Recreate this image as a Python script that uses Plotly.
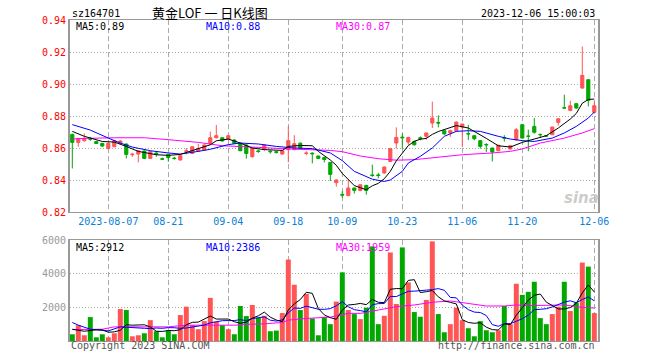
import plotly.graph_objects as go

# ---------------- data ----------------
dates = [
    "2023-07-28", "2023-07-31",
    "2023-08-01", "2023-08-02", "2023-08-03", "2023-08-04", "2023-08-07", "2023-08-08", "2023-08-09",
    "2023-08-10", "2023-08-11", "2023-08-14", "2023-08-15", "2023-08-16", "2023-08-17", "2023-08-18",
    "2023-08-21", "2023-08-22", "2023-08-23", "2023-08-24", "2023-08-25", "2023-08-28", "2023-08-29",
    "2023-08-30", "2023-08-31",
    "2023-09-01", "2023-09-04", "2023-09-05", "2023-09-06", "2023-09-07", "2023-09-08", "2023-09-11",
    "2023-09-12", "2023-09-13", "2023-09-14", "2023-09-15", "2023-09-18", "2023-09-19", "2023-09-20",
    "2023-09-21", "2023-09-22", "2023-09-25", "2023-09-26", "2023-09-27", "2023-09-28",
    "2023-10-09", "2023-10-10", "2023-10-11", "2023-10-12", "2023-10-13", "2023-10-16", "2023-10-17",
    "2023-10-18", "2023-10-19", "2023-10-20", "2023-10-23", "2023-10-24", "2023-10-25", "2023-10-26",
    "2023-10-27", "2023-10-30", "2023-10-31",
    "2023-11-01", "2023-11-02", "2023-11-03", "2023-11-06", "2023-11-07", "2023-11-08", "2023-11-09",
    "2023-11-10", "2023-11-13", "2023-11-14", "2023-11-15", "2023-11-16", "2023-11-17", "2023-11-20",
    "2023-11-21", "2023-11-22", "2023-11-23", "2023-11-24", "2023-11-27", "2023-11-28", "2023-11-29",
    "2023-11-30",
    "2023-12-01", "2023-12-04", "2023-12-05", "2023-12-06",
]

opens = [
    .8685, .8635, .8646, .8658, .8640, .8629, .8597, .8608, .8629, .8625,
    .8558, .8562, .8581, .8535, .8568, .8533, .8560, .8537, .8525, .8579,
    .8566, .8581, .8587, .8629, .8664, .8664, .8656, .8650, .8629, .8619,
    .8546, .8582, .8594, .8580, .8577, .8562, .8590, .8590, .8630, .8566,
    .8568, .8550, .8540, .8510, .8383, .8310, .8302, .8350, .8335, .8366,
    .8432, .8432, .8444, .8516, .8631, .8668, .8637, .8641, .8664, .8673,
    .8756, .8760, .8708, .8694, .8708, .8731, .8690, .8677, .8646, .8622,
    .8600, .8583, .8664, .8594, .8652, .8746, .8675, .8735, .8685, .8677,
    .8683, .8760, .8852, .8835, .8877, .8975, .9027, .8823,
]
highs = [
    .8690, .8662, .8691, .8670, .8645, .8632, .8632, .8650, .8650, .8628,
    .8570, .8585, .8585, .8581, .8580, .8540, .8563, .8545, .8555, .8600,
    .8610, .8625, .8622, .8702, .8744, .8668, .8680, .8655, .8632, .8622,
    .8600, .8590, .8620, .8585, .8582, .8585, .8735, .8680, .8635, .8580,
    .8572, .8552, .8545, .8512, .8405, .8330, .8400, .8352, .8372, .8370,
    .8496, .8445, .8485, .8598, .8729, .8690, .8670, .8645, .8672, .8694,
    .8890, .8804, .8715, .8715, .8765, .8750, .8745, .8680, .8648, .8630,
    .8602, .8620, .8680, .8617, .8725, .8748, .8715, .8787, .8690, .8680,
    .8731, .8783, .8933, .8896, .8882, .9235, .9030, .8890,
]
lows = [
    .8472, .8608, .8640, .8645, .8625, .8608, .8592, .8605, .8625, .8535,
    .8545, .8510, .8530, .8532, .8545, .8525, .8514, .8528, .8522, .8560,
    .8562, .8575, .8585, .8620, .8660, .8640, .8650, .8625, .8580, .8533,
    .8540, .8570, .8580, .8565, .8565, .8558, .8510, .8585, .8595, .8555,
    .8504, .8530, .8510, .8394, .8358, .8290, .8300, .8315, .8330, .8308,
    .8420, .8410, .8440, .8514, .8596, .8596, .8620, .8615, .8648, .8652,
    .8725, .8729, .8683, .8670, .8700, .8604, .8650, .8648, .8596, .8575,
    .8516, .8580, .8640, .8590, .8645, .8660, .8580, .8690, .8665, .8670,
    .8680, .8740, .8845, .8830, .8845, .8969, .8860, .8815,
]
closes = [
    .8635, .8660, .8660, .8655, .8628, .8612, .8629, .8646, .8644, .8560,
    .8561, .8583, .8535, .8577, .8564, .8530, .8540, .8534, .8552, .8582,
    .8608, .8597, .8619, .8664, .8677, .8644, .8677, .8629, .8583, .8566,
    .8597, .8578, .8619, .8577, .8573, .8583, .8646, .8627, .8598, .8568,
    .8564, .8535, .8528, .8435, .8400, .8306, .8350, .8335, .8370, .8335,
    .8428, .8428, .8481, .8596, .8666, .8664, .8666, .8620, .8660, .8694,
    .8787, .8756, .8688, .8708, .8762, .8750, .8688, .8658, .8610, .8620,
    .8575, .8617, .8662, .8614, .8714, .8662, .8673, .8698, .8683, .8675,
    .8731, .8783, .8850, .8864, .8850, .9054, .8898, .8864,
]
volumes = [
    400, 940, 340, 1420, 220, 400, 220, 460, 1900, 1840,
    280, 340, 460, 1240, 580, 220, 620, 400, 1540, 2040,
    940, 700, 1180, 2560, 1140, 940, 700, 400, 2080, 1480,
    2140, 1380, 1500, 580, 620, 1660, 4840, 3340, 1840, 2800,
    1340, 340, 1440, 1000, 2340, 4080, 1840, 1600, 1300, 1980,
    5620, 1000, 1500, 5260, 2200, 5560, 3480, 1720, 1440, 2440,
    5920, 1600, 520, 1000, 1980, 1240, 760, 280, 1180, 640,
    520, 640, 2080, 1000, 3400, 2740, 2920, 3520, 1360, 1000,
    1600, 2040, 3520, 1780, 2280, 4660, 4420, 1660,
]

# moving-average lines (trading-day number -> value)
ma5_days = [0, 2, 5, 7, 9, 11, 14, 16, 18, 21, 23, 24, 26, 28, 30, 32, 35, 36, 38, 40, 41, 43, 44, 45,
            46, 47, 48, 49, 50, 51, 52, 53, 54, 55, 56, 57, 58, 59, 60, 61, 63, 64, 66, 67, 69, 71, 73,
            75, 77, 79, 81, 83, 84, 85, 86, 87]
ma5_vals = [.8704, .8673, .8641, .8637, .8610, .8579, .8558, .8554, .8560, .8596, .8620, .8645, .8656,
            .8631, .8600, .8590, .8585, .8610, .8616, .8614, .8579, .8525, .8492, .8441, .8404, .8365,
            .8352, .8339, .8364, .8379, .8408, .8454, .8520, .8567, .8615, .8642, .8655, .8660, .8685,
            .8703, .8725, .8740, .8725, .8704, .8660, .8614, .8606, .8635, .8656, .8677, .8725, .8781,
            .8816, .8880, .8903, .8906]
ma10_days = [0, 1, 3, 6, 8, 10, 13, 16, 18, 21, 23, 26, 28, 31, 34, 37, 40, 43, 45, 47, 50, 52, 53, 55,
             56, 58, 60, 62, 64, 66, 68, 71, 73, 75, 77, 80, 82, 84, 86, 87]
ma10_vals = [.8746, .8735, .8712, .8662, .8631, .8606, .8583, .8569, .8562, .8579, .8592, .8621, .8631,
             .8625, .8610, .8600, .8596, .8569, .8521, .8454, .8405, .8391, .8400, .8454, .8506, .8548,
             .8600, .8673, .8704, .8708, .8704, .8673, .8656, .8646, .8641, .8662, .8694, .8735, .8787,
             .8825]
ma30_days = [0, 2, 7, 12, 16, 18, 21, 25, 28, 31, 36, 40, 43, 45, 48, 51, 54, 57, 61, 65, 70, 73, 75,
             78, 82, 85, 87]
ma30_vals = [.8656, .8660, .8664, .8664, .8652, .8646, .8635, .8614, .8610, .8604, .8594, .8590, .8585,
             .8577, .8550, .8533, .8524, .8527, .8541, .8558, .8569, .8579, .8594, .8631, .8662, .8694,
             .8721]

vma5_days = [0, 2] + list(range(4, 88))
vma5_vals = [700, 580,
             664, 664, 520, 544, 640, 964, 940, 964, 964, 832, 580, 568, 624, 612, 672, 964,
             1108, 1124, 1280, 1484, 1304, 1304, 1304, 1148, 1052, 1120, 1360, 1496, 1716, 1416,
             1244, 1148, 1840, 2208, 2460, 2896, 2832, 1932, 1552, 1384, 1292, 1840, 2140, 2172,
             2232, 2160, 2468, 2300, 2280, 3072, 3116, 3104, 3600, 3644, 2880, 2928, 3000, 2624,
             2384, 2296, 2204, 1268, 1100, 1052, 1088, 820, 676, 652, 1012, 976, 1528, 1972,
             2428, 2716, 2788, 2308, 2080, 1904, 1904, 1988, 2244, 2856, 3332, 2912]
vma10_days = [0, 1, 3, 6, 8] + list(range(9, 88))
vma10_vals = [1100, 940, 700, 600, 840,
              814, 802, 742, 754, 736, 772, 754, 794, 788, 752,
              772, 838, 874, 946, 1078, 1134, 1206, 1214, 1214, 1268,
              1212, 1332, 1400, 1432, 1234, 1182, 1254, 1668, 1962, 1938,
              2070, 1990, 1886, 1880, 1922, 2094, 2336, 2036, 1862, 1808,
              1726, 2154, 2220, 2226, 2652, 2638, 2786, 2950, 2962, 2976,
              3022, 3052, 3112, 3014, 2588, 2566, 2134, 1862, 1718, 1692,
              1512, 972, 876, 1032, 1032, 1174, 1324, 1540, 1864, 1882,
              1918, 2026, 2166, 2310, 2388, 2276, 2468, 2618, 2386]
vma30_days = [0, 5, 7, 13, 16, 19, 22, 27, 30, 32, 35, 36, 39, 43, 46, 48, 51, 54, 57, 60, 63, 66, 69,
              72, 74, 76, 79, 82, 85, 87]
vma30_vals = [680, 700, 840, 820, 840, 940, 940, 940, 1000, 1020, 1100, 1240, 1340, 1420, 1640, 1640,
              1840, 2040, 2140, 2300, 2380, 2240, 2080, 2080, 2140, 2100, 2140, 2140, 2000, 1959]

tick_dates = ["2023-08-07", "2023-08-21", "2023-09-04", "2023-09-18", "2023-10-09",
              "2023-10-23", "2023-11-06", "2023-11-20", "2023-12-06"]
tick_labels = ["2023-08-07", "08-21", "09-04", "09-18", "10-09", "10-23", "11-06", "11-20", "12-06"]
price_ticks = [0.82, 0.84, 0.86, 0.88, 0.90, 0.92, 0.94]
vol_ticks = [2000, 4000, 6000]

# ---------------- styling ----------------
RED = "#ff5555"
GREEN = "#00a800"
GRID = "#aaaaaa"
BORDER = "#999999"
MONO = "DejaVu Sans Mono"

fig = go.Figure()

fig.add_trace(go.Candlestick(
    x=dates, open=opens, high=highs, low=lows, close=closes,
    increasing=dict(line=dict(color=RED, width=1), fillcolor=RED),
    decreasing=dict(line=dict(color=GREEN, width=1), fillcolor=GREEN),
    whiskerwidth=0, xaxis="x", yaxis="y", hoverinfo="skip", showlegend=False,
))

for days, vals, col in [(ma30_days, ma30_vals, "#ff00ff"), (ma10_days, ma10_vals, "#0000ff"),
                        (ma5_days, ma5_vals, "#000000")]:
    fig.add_trace(go.Scatter(x=[dates[d] for d in days], y=vals, mode="lines",
                             line=dict(color=col, width=1), xaxis="x", yaxis="y",
                             hoverinfo="skip", showlegend=False))

bar_colors = [RED if c >= o else GREEN for o, c in zip(opens, closes)]
fig.add_trace(go.Bar(x=dates, y=volumes, marker=dict(color=bar_colors, line=dict(width=0)),
                     xaxis="x2", yaxis="y2", hoverinfo="skip", showlegend=False))

for days, vals, col in [(vma30_days, vma30_vals, "#ff00ff"), (vma10_days, vma10_vals, "#0000ff"),
                        (vma5_days, vma5_vals, "#000000")]:
    fig.add_trace(go.Scatter(x=[dates[d] for d in days], y=vals, mode="lines",
                             line=dict(color=col, width=1), xaxis="x2", yaxis="y2",
                             hoverinfo="skip", showlegend=False))

# geometry (pixels)
L, R, T, B = 70, 598, 20, 341
W, H = 660, 360
PRICE_BOTTOM = 212
VOL_TOP = 240


def px(x):
    return (x - L) / (R - L)


def py(y):
    return (B - y) / (B - T)


xcommon = dict(
    type="category", categoryorder="array", categoryarray=dates,
    range=[-0.383, len(dates) - 0.383],
    tickmode="array", tickvals=tick_dates, ticktext=tick_labels,
    showgrid=True, gridcolor=GRID, gridwidth=1, griddash="5px,3px",
    showline=True, mirror=True, linecolor=BORDER, linewidth=1,
    zeroline=False, ticks="", fixedrange=True,
)

fig.update_layout(
    width=W, height=H,
    margin=dict(l=L, r=W - R, t=T, b=H - B),
    paper_bgcolor="white", plot_bgcolor="white",
    showlegend=False, bargap=0.17, boxgap=0.25,
    font=dict(family=MONO, size=10, color="#000"),
    xaxis=dict(**xcommon, anchor="y", domain=[0, 1],
               tickfont=dict(family=MONO, size=10, color="#0a7fd6"),
               rangeslider=dict(visible=False)),
    xaxis2=dict(**xcommon, anchor="y2", domain=[0, 1], showticklabels=False, matches="x"),
    yaxis=dict(domain=[py(PRICE_BOTTOM), 1], range=[0.82, 0.94],
               tickmode="array", tickvals=price_ticks,
               ticktext=["%.2f" % v for v in price_ticks],
               tickfont=dict(family=MONO, size=10, color="#ff0000"),
               showgrid=True, gridcolor=GRID, gridwidth=1, griddash="1px,2px",
               showline=True, mirror=True, linecolor=BORDER, linewidth=2,
               zeroline=False, ticks="", ticklabelstandoff=0, fixedrange=True, anchor="x"),
    yaxis2=dict(domain=[0, py(VOL_TOP)], range=[0, 6000],
                tickmode="array", tickvals=vol_ticks, ticktext=[str(v) for v in vol_ticks],
                tickfont=dict(family=MONO, size=10, color="#999999"),
                showgrid=True, gridcolor=GRID, gridwidth=1, griddash="1px,2px",
                showline=True, mirror=True, linecolor=BORDER, linewidth=2,
                zeroline=False, ticks="", ticklabelstandoff=0, fixedrange=True, anchor="x2"),
)


def note(text, x, y, anchor="left", color="#000", size=10, family=MONO, **kw):
    fig.add_annotation(text=text, x=px(x), y=py(y), xref="paper", yref="paper",
                       xanchor=anchor, yanchor="middle", showarrow=False,
                       font=dict(family=family, size=size, color=color, **kw))


note("sz164701", 70, 13)
note("黄金LOF 一 日K线图", 210, 12, anchor="center", size=13, family="Noto Sans CJK SC")
note("2023-12-06 15:00:03", 597, 13, anchor="right")
note("MA5:0.89", 74, 26)
note("MA10:0.88", 204, 26, color="#0000ff")
note("MA30:0.87", 334, 26, color="#ff00ff")
note("MA5:2912", 74, 247)
note("MA10:2386", 204, 247, color="#0000ff")
note("MA30:1959", 334, 247, color="#ff00ff")
note("Copyright 2023 SINA.COM", 69, 346, color="#555555")
note("http://finance.sina.com.cn", 597, 346, anchor="right", color="#555555")
note("sina", 581, 198, anchor="center", color="rgba(190,190,190,0.8)", size=15,
     family="DejaVu Sans", style="italic", weight="bold")

fig.write_html("out.html", config={"displayModeBar": False, "staticPlot": True},
               post_script="document.body.style.margin='0px';")
